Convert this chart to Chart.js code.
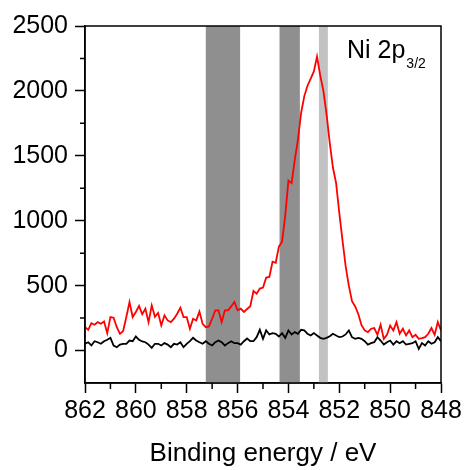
<!DOCTYPE html>
<html>
<head>
<meta charset="utf-8">
<script src="https://cdn.jsdelivr.net/npm/chart.js@4.4.1/dist/chart.umd.min.js"></script>
<style>
	html, body { margin: 0; padding: 0; background: #fff; }
	#wrap { width: 466px; height: 470px; }
</style>
</head>
<body>
<div id="wrap"><canvas id="chart_ni"></canvas></div>
<script>
//bindningsenergi (eV)
var energies = [
	862, 861.875, 861.75, 861.625, 861.5, 861.375, 861.25, 861.125,
	861, 860.875, 860.75, 860.625, 860.5, 860.375, 860.25, 860.125,
	860, 859.875, 859.75, 859.625, 859.5, 859.375, 859.25, 859.125,
	859, 858.875, 858.75, 858.625, 858.5, 858.375, 858.25, 858.125,
	858, 857.875, 857.75, 857.625, 857.5, 857.375, 857.25, 857.125,
	857, 856.875, 856.75, 856.625, 856.5, 856.375, 856.25, 856.125,
	856, 855.875, 855.75, 855.625, 855.5, 855.375, 855.25, 855.125,
	855, 854.875, 854.75, 854.625, 854.5, 854.375, 854.25, 854.125,
	854, 853.875, 853.75, 853.625, 853.5, 853.375, 853.25, 853.125,
	853, 852.875, 852.75, 852.625, 852.5, 852.375, 852.25, 852.125,
	852, 851.875, 851.75, 851.625, 851.5, 851.375, 851.25, 851.125,
	851, 850.875, 850.75, 850.625, 850.5, 850.375, 850.25, 850.125,
	850, 849.875, 849.75, 849.625, 849.5, 849.375, 849.25, 849.125,
	849, 848.875, 848.75, 848.625, 848.5, 848.375, 848.25, 848.125,
	848
];

//röd kurva
var counts_red = [
	180, 160, 210, 199, 219, 206, 224, 134,
	258, 253, 180, 129, 150, 258, 374, 258,
	297, 343, 280, 322, 219, 348, 260, 290,
	193, 271, 232, 219, 245, 284, 330, 258,
	258, 168, 245, 232, 300, 206, 180, 186,
	245, 310, 310, 219, 310, 310, 340, 374,
	310, 323, 297, 320, 341, 459, 438, 477,
	485, 562, 567, 684, 676, 800, 838, 1040,
	1310, 1290, 1471, 1625, 1832, 1960, 2040, 2095,
	2150, 2265, 2120, 2000, 1820, 1600, 1410, 1290,
	1060, 850, 650, 500, 380, 340, 280, 195,
	155, 142, 168, 173, 121, 199, 90, 121,
	193, 155, 219, 129, 168, 116, 155, 103,
	121, 90, 95, 103, 129, 173, 121, 219,
	155
];

//svart kurva
var counts_black = [
	52, 64, 39, 72, 64, 52, 72, 83,
	98, 39, 26, 46, 52, 52, 77, 72,
	108, 83, 70, 64, 46, 21, 52, 52,
	39, 57, 46, 26, 52, 46, 64, 26,
	52, 72, 98, 77, 64, 52, 72, 52,
	39, 64, 77, 64, 39, 57, 72, 57,
	57, 46, 72, 93, 72, 72, 103, 160,
	90, 155, 124, 134, 129, 108, 134, 98,
	155, 124, 142, 129, 160, 155, 129, 116,
	134, 116, 98, 90, 98, 110, 129, 116,
	103, 108, 124, 155, 103, 90, 98, 90,
	72, 46, 57, 64, 103, 77, 46, 64,
	77, 46, 72, 57, 72, 46, 52, 57,
	72, 13, 57, 39, 72, 52, 64, 103,
	72
];

//grå fält (från, till) i eV
var band_from = [857.25, 854.35, 852.8];
var band_to = [855.9, 853.55, 852.45];
var band_colors = ["#8f8f8f", "#8f8f8f", "#c2c2c2"];

//axelstreck
var y_ticks = [0, 500, 1000, 1500, 2000, 2500];
var x_minor = [861, 859, 857, 855, 853, 851, 849];
var y_minor = [2250, 1750, 1250, 750, 250];

var font_family = "'Liberation Sans', Arial, sans-serif";

setup_chart();

/**
 * Skapar grafen
 */
function setup_chart()
{
	function to_points(values)
	{
		return values.map(function(v, i){ return { x: energies[i], y: v }; });
	}

	//grå fält bakom kurvorna
	var bands_plugin = {
		id: "bands",
		beforeDatasetsDraw: function(chart){
			var ctx = chart.ctx;
			var area = chart.chartArea;
			var xs = chart.scales.x;
			ctx.save();
			for(var i = 0; i < band_from.length; i++)
			{
				var x1 = xs.getPixelForValue(band_from[i]);
				var x2 = xs.getPixelForValue(band_to[i]);
				ctx.fillStyle = band_colors[i];
				ctx.fillRect(x1, area.top, x2 - x1, area.bottom - area.top);
			}
			ctx.restore();
		}
	};

	//ram, små streck och etikett
	var frame_plugin = {
		id: "frame",
		afterDraw: function(chart){
			var ctx = chart.ctx;
			var area = chart.chartArea;
			var xs = chart.scales.x;
			var ys = chart.scales.y;
			ctx.save();
			ctx.strokeStyle = "#000";
			ctx.lineWidth = 1.5;
			ctx.strokeRect(area.left, area.top, area.right - area.left, area.bottom - area.top);

			ctx.beginPath();
			x_minor.forEach(function(v){
				var px = xs.getPixelForValue(v);
				ctx.moveTo(px, area.bottom);
				ctx.lineTo(px, area.bottom + 6);
			});
			y_minor.forEach(function(v){
				var py = ys.getPixelForValue(v);
				ctx.moveTo(area.left - 5, py);
				ctx.lineTo(area.left, py);
			});
			ctx.stroke();

			ctx.fillStyle = "#000";
			ctx.textBaseline = "alphabetic";
			ctx.textAlign = "left";
			ctx.font = "25px " + font_family;
			ctx.fillText("Ni 2p", 347, 58);
			var w = ctx.measureText("Ni 2p").width;
			ctx.font = "14px " + font_family;
			ctx.fillText("3/2", 347 + w + 1, 68);
			ctx.restore();
		}
	};

	var params = {
		type: "line",
		data: {
			datasets: [
				{
					data: to_points(counts_black),
					borderColor: "#000000",
					borderWidth: 1.8,
					pointRadius: 0,
					tension: 0
				},
				{
					data: to_points(counts_red),
					borderColor: "#ff0000",
					borderWidth: 1.8,
					pointRadius: 0,
					tension: 0
				}
			]
		},
		options: {
			responsive: true,
			maintainAspectRatio: false,
			animation: false,
			layout: { padding: { left: 0, top: 26, right: 25, bottom: 0 } },
			plugins: {
				legend: { display: false },
				tooltip: { enabled: false }
			},
			scales: {
				x: {
					type: "linear",
					reverse: true,
					min: 848,
					max: 862,
					afterFit: function(scale){ scale.height = 87; },
					ticks: {
						stepSize: 2,
						color: "#000",
						padding: 3,
						maxRotation: 0,
						autoSkip: false,
						callback: function(value){ return String(value); },
						font: { family: font_family, size: 25 }
					},
					grid: {
						drawOnChartArea: false,
						tickLength: 10,
						tickColor: "#000",
						tickWidth: 1.5
					},
					border: { color: "#000", width: 1.5 },
					title: {
						display: true,
						text: "Binding energy / eV",
						color: "#000",
						padding: { top: 0, bottom: 1 },
						font: { family: font_family, size: 26 }
					}
				},
				y: {
					min: -250,
					max: 2500,
					afterFit: function(scale){ scale.width = 85; },
					afterBuildTicks: function(scale){
						scale.ticks = y_ticks.map(function(v){ return { value: v }; });
					},
					ticks: {
						color: "#000",
						padding: 7,
						callback: function(value){ return String(value); },
						font: { family: font_family, size: 25 }
					},
					grid: {
						drawOnChartArea: false,
						tickLength: 10,
						tickColor: "#000",
						tickWidth: 1.5
					},
					border: { color: "#000", width: 1.5 }
				}
			}
		},
		plugins: [bands_plugin, frame_plugin]
	};
	new Chart(document.getElementById("chart_ni"), params);
}
</script>
</body>
</html>
